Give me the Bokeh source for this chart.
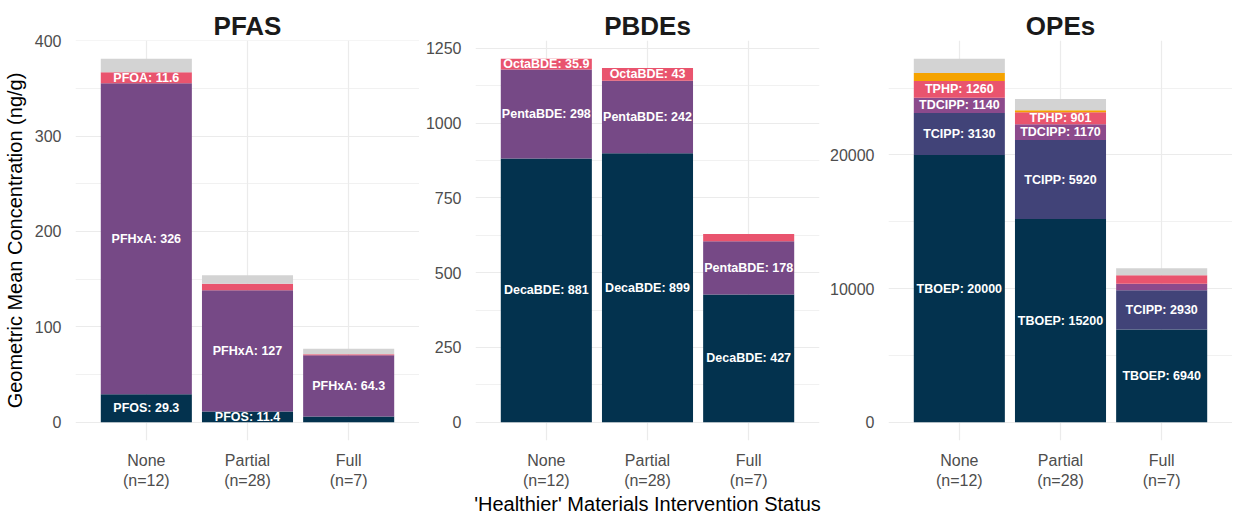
from bokeh.plotting import figure
from bokeh.layouts import row
from bokeh.models import ColumnDataSource, FactorRange, Range1d, FixedTicker
from bokeh.core.properties import value
from bokeh.embed import file_html
from bokeh.resources import INLINE

# ---------------- data ----------------
groups = ["None\n(n=12)", "Partial\n(n=28)", "Full\n(n=7)"]

pfas_compounds = ["PFOS", "PFHxA", "PFOA", "Other"]
pfas_PFOS = [29.3, 11.4, 6.1]
pfas_PFHxA = [326, 127, 64.3]
pfas_PFOA = [11.6, 6.8, 1.0]
pfas_Other = [14.2, 9.0, 5.6]
pfas_colors = ["#03324e", "#764986", "#e9546e", "#d3d3d3"]

pbde_compounds = ["DecaBDE", "PentaBDE", "OctaBDE"]
pbde_DecaBDE = [881, 899, 427]
pbde_PentaBDE = [298, 242, 178]
pbde_OctaBDE = [35.9, 43, 24]
pbde_colors = ["#03324e", "#764986", "#e9546e"]

ope_compounds = ["TBOEP", "TCIPP", "TDCIPP", "TPHP", "EHDPP", "Other"]
ope_TBOEP = [20000, 15200, 6940]
ope_TCIPP = [3130, 5920, 2930]
ope_TDCIPP = [1140, 1170, 490]
ope_TPHP = [1260, 901, 650]
ope_EHDPP = [600, 150, 0]
ope_Other = [1070, 850, 510]
ope_colors = ["#03324e", "#414378", "#8c4a8c", "#e9546e", "#f5a300", "#d3d3d3"]

pfas_ticks = [0, 100, 200, 300, 400]
pfas_minor = [50, 150, 250, 350]
pbde_ticks = [0, 250, 500, 750, 1000, 1250]
pbde_minor = [125, 375, 625, 875, 1125]
ope_ticks = [0, 10000, 20000]
ope_minor = [5000, 15000, 25000]

FONT = "Liberation Sans"
FRAME_W = 344
FRAME_H = 400


def make_panel(title, compounds, series, colors, ticks, minor, left, right,
               ylabel=None, xlabel=None):
    data = {"grp": groups}
    for c, s in zip(compounds, series):
        data[c] = s
    src = ColumnDataSource(data)
    totals = [sum(vals) for vals in zip(*series)]
    top = max(totals)
    pad = 0.05 * top

    p = figure(x_range=FactorRange(*groups, range_padding=0.2,
                                   range_padding_units="absolute"),
               y_range=Range1d(-pad, top + pad),
               frame_width=FRAME_W, frame_height=FRAME_H,
               min_border_left=left, min_border_right=right,
               min_border_top=40, min_border_bottom=40,
               output_backend="svg", toolbar_location=None,
               background_fill_color="white", border_fill_color="white")
    p.outline_line_color = None

    p.vbar_stack(compounds, x="grp", width=0.9, color=colors,
                 line_color=None, source=src)

    # segment labels
    lx, ly, lt = [], [], []
    for j, g in enumerate(groups):
        base = 0.0
        for c, s in zip(compounds, series):
            v = s[j]
            if c != "Other" and v >= 0.025 * top:
                lx.append(g)
                ly.append(base + v / 2)
                lt.append(f"{c}: {v:g}")
            base += v
    p.text(x="x", y="y", text="t",
           source=ColumnDataSource(dict(x=lx, y=ly, t=lt)),
           text_color="white", text_font=value(FONT),
           text_font_style="bold", text_font_size="12.5px",
           text_align="center", text_baseline="middle")

    # title
    p.title.text = title
    p.title.align = "center"
    p.title.text_font = FONT
    p.title.text_font_size = "26px"
    p.title.text_font_style = "bold"
    p.title.text_color = "#1a1a1a"
    p.title.standoff = 0

    ticker = FixedTicker(ticks=ticks, minor_ticks=minor)
    p.yaxis.ticker = ticker
    p.ygrid.ticker = ticker
    for ax in (p.xaxis[0], p.yaxis[0]):
        ax.axis_line_color = None
        ax.major_tick_line_color = None
        ax.minor_tick_line_color = None
        ax.major_label_text_font = FONT
        ax.major_label_text_font_size = "16px"
        ax.major_label_text_color = "#4d4d4d"
        ax.axis_label_text_font = FONT
        ax.axis_label_text_font_size = "20px"
        ax.axis_label_text_font_style = "normal"
        ax.axis_label_text_color = "#000000"
    p.yaxis.major_label_standoff = 8
    p.xaxis.major_label_standoff = 5
    if ylabel:
        p.yaxis.axis_label = ylabel
        p.yaxis.axis_label_standoff = 6
    if xlabel:
        p.xaxis.axis_label = xlabel
        p.xaxis.axis_label_standoff = 1

    p.xgrid.grid_line_color = "#ebebeb"
    p.xgrid.grid_line_width = 1.2
    p.ygrid.grid_line_color = "#ebebeb"
    p.ygrid.grid_line_width = 1.2
    p.ygrid.minor_grid_line_color = "#ebebeb"
    p.ygrid.minor_grid_line_width = 0.7
    return p


p1 = make_panel("PFAS", pfas_compounds,
                [pfas_PFOS, pfas_PFHxA, pfas_PFOA, pfas_Other],
                pfas_colors, pfas_ticks, pfas_minor, 66, 0,
                ylabel="Geometric Mean Concentration (ng/g)")
p2 = make_panel("PBDEs", pbde_compounds,
                [pbde_DecaBDE, pbde_PentaBDE, pbde_OctaBDE],
                pbde_colors, pbde_ticks, pbde_minor, 56, 8,
                xlabel="'Healthier' Materials Intervention Status")
p3 = make_panel("OPEs", ope_compounds,
                [ope_TBOEP, ope_TCIPP, ope_TDCIPP, ope_TPHP, ope_EHDPP, ope_Other],
                ope_colors, ope_ticks, ope_minor, 58, 0)

layout = row(p1, p2, p3)
open("out.html", "w").write(file_html(layout, INLINE))
